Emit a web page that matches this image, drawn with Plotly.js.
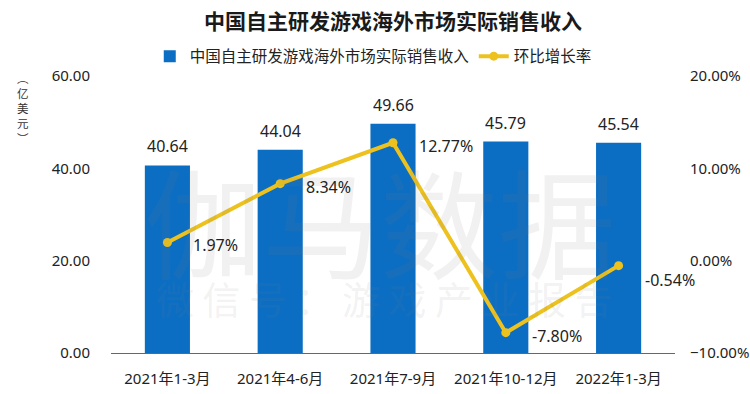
<!DOCTYPE html>
<html>
<head>
<meta charset="utf-8">
<script src="https://cdn.plot.ly/plotly-3.0.1.min.js"></script>
<style>html,body{margin:0;padding:0;background:#fff;}#chart{width:750px;height:394px;}</style>
</head>
<body>
<div id="chart"></div>
<script>
const categories = ["2021年1-3月", "2021年4-6月", "2021年7-9月", "2021年10-12月", "2022年1-3月"];
const revenue = [40.64, 44.04, 49.66, 45.79, 45.54];
const growth = [1.97, 8.34, 12.77, -7.80, -0.54];
const seriesNames = ["中国自主研发游戏海外市场实际销售收入", "环比增长率"];
const titleText = "中国自主研发游戏海外市场实际销售收入";
const yTitle = "︵<br>亿<br>美<br>元<br>︶";
const watermark1 = "伽马数据";
const watermark2 = "微 信 号 ： 游 戏 产 业 报 告";

const FONT = '"Noto Sans", "Noto Sans CJK SC", sans-serif';
const BAR = "#0B6EC3";
const LINE = "#EDC21E";

const traces = [
  {
    type: "bar", x: categories, y: revenue, name: seriesNames[0],
    marker: {color: BAR}, width: 0.4, yaxis: "y", hoverinfo: "skip"
  },
  {
    type: "scatter", mode: "lines+markers", x: categories, y: growth, name: seriesNames[1],
    yaxis: "y2", line: {color: LINE, width: 4}, marker: {color: LINE, size: 9}, hoverinfo: "skip"
  }
];

const annotations = [];
// watermark
annotations.push({xref: "paper", yref: "paper", x: 0.477, y: 0.487, text: watermark1, showarrow: false,
  font: {family: '"Noto Sans CJK SC"', size: 118, color: "rgba(128,128,128,0.11)"}, xanchor: "center", yanchor: "middle"});
annotations.push({xref: "paper", yref: "paper", x: 0.485, y: 0.2, text: watermark2, showarrow: false,
  font: {family: '"Noto Sans CJK SC"', size: 38, color: "rgba(128,128,128,0.11)"}, xanchor: "center", yanchor: "middle"});
// bar value labels
revenue.forEach((v, i) => {
  annotations.push({x: categories[i], y: v, xref: "x", yref: "y", text: v.toFixed(2), showarrow: false,
    yanchor: "bottom", xanchor: "center", yshift: 6, font: {family: FONT, size: 16, color: "#222"}});
});
// growth labels
growth.forEach((v, i) => {
  annotations.push({x: categories[i], y: v, xref: "x", yref: "y2", text: v.toFixed(2) + "%", showarrow: false,
    yanchor: "middle", xanchor: "left", xshift: 24, yshift: (i === growth.length - 1) ? -14 : -3,
    font: {family: FONT, size: 16, color: "#222"}});
});
// y-axis title (vertical stacked)
annotations.push({xref: "paper", yref: "paper", x: -0.156, y: 1.03, text: yTitle, showarrow: false,
  xanchor: "center", yanchor: "top", align: "center",
  font: {family: '"Noto Sans CJK SC"', size: 11.5, color: "#333"}});

const layout = {
  width: 750, height: 394,
  margin: {l: 110.5, r: 74.5, t: 76, b: 41, pad: 0},
  paper_bgcolor: "#fff", plot_bgcolor: "#fff",
  font: {family: FONT, color: "#333"},
  title: {text: "<b>" + titleText + "</b>", x: 0.5, xref: "paper", y: 0.945, yanchor: "middle",
    font: {family: '"Noto Sans CJK SC"', size: 21, color: "#1a1a1a"}},
  showlegend: true,
  legend: {orientation: "h", x: 0.465, xanchor: "center", y: 1.07, yanchor: "middle",
    font: {family: '"Noto Sans CJK SC"', size: 15.5, color: "#222"}, itemwidth: 30, tracegroupgap: 0},
  xaxis: {type: "category", range: [-0.5, 4.5], showgrid: false, zeroline: false,
    showline: true, linecolor: "#2E75B6", linewidth: 1, ticks: "", ticklabelstandoff: 12,
    tickfont: {family: FONT, size: 15, color: "#222"}, fixedrange: true},
  yaxis: {range: [0, 60], dtick: 20, tick0: 0, tickformat: ".2f", showgrid: false, zeroline: false,
    showline: false, ticks: "", ticklabelstandoff: 20,
    tickfont: {family: FONT, size: 15, color: "#222"}},
  yaxis2: {range: [-10, 20], dtick: 10, tick0: -10, tickformat: ".2f", ticksuffix: "%", overlaying: "y", side: "right",
    showgrid: false, zeroline: false, showline: false, ticks: "", ticklabelstandoff: 14,
    tickfont: {family: FONT, size: 15, color: "#222"}},
  annotations: annotations
};

Plotly.newPlot("chart", traces, layout, {staticPlot: true, displayModeBar: false});
</script>
</body>
</html>
